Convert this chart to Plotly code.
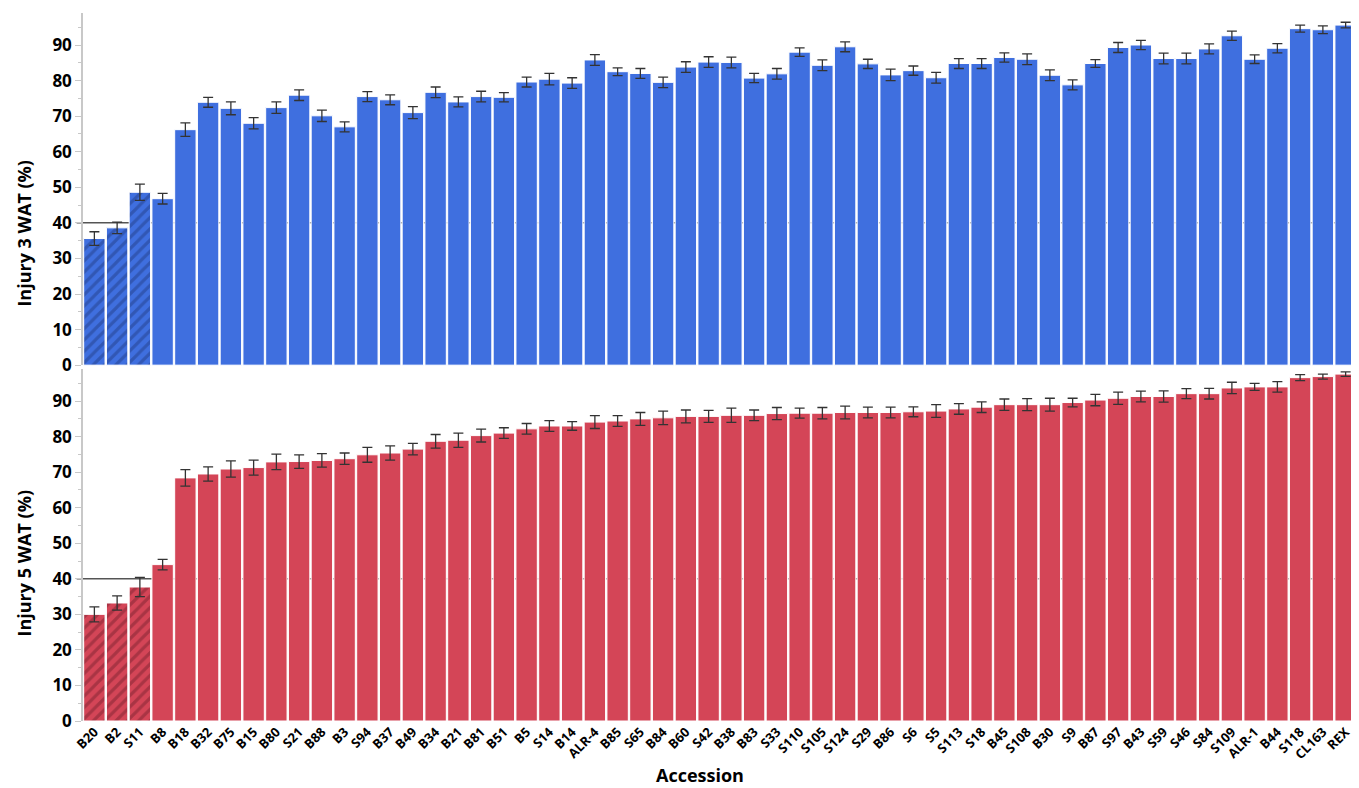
import plotly.graph_objects as go

accessions = ["B20", "B2", "S11", "B8", "B18", "B32", "B75", "B15", "B80", "S21", "B88", "B3", "S94", "B37",
              "B49", "B34", "B21", "B81", "B51", "B5", "S14", "B14", "ALR-4", "B85", "S65", "B84", "B60", "S42",
              "B38", "B83", "S33", "S110", "S105", "S124", "S29", "B86", "S6", "S5", "S113", "S18", "B45", "S108",
              "B30", "S9", "B87", "S97", "B43", "S59", "S46", "S84", "S109", "ALR-1", "B44", "S118", "CL163", "REX"]

injury3 = [35.6, 38.6, 48.6, 46.8, 66.2, 73.9, 72.2, 68.0, 72.4, 75.9, 70.1, 67.0, 75.5, 74.6,
           71.0, 76.7, 74.0, 75.5, 75.3, 79.6, 80.4, 79.3, 85.8, 82.5, 82.0, 79.5, 83.8, 85.2,
           85.1, 80.7, 81.9, 88.0, 84.3, 89.5, 84.7, 81.6, 82.8, 80.8, 84.8, 84.8, 86.5, 86.0,
           81.5, 78.8, 84.8, 89.3, 90.0, 86.2, 86.2, 88.9, 92.6, 86.0, 89.1, 94.6, 94.3, 95.6]
injury3_err = [1.9, 1.6, 2.3, 1.5, 1.9, 1.4, 1.8, 1.6, 1.6, 1.5, 1.6, 1.4, 1.4, 1.4,
               1.7, 1.5, 1.4, 1.5, 1.3, 1.4, 1.6, 1.5, 1.5, 1.1, 1.4, 1.5, 1.5, 1.5,
               1.5, 1.3, 1.5, 1.2, 1.5, 1.4, 1.3, 1.6, 1.3, 1.5, 1.4, 1.4, 1.3, 1.5,
               1.5, 1.4, 1.1, 1.4, 1.3, 1.5, 1.5, 1.4, 1.3, 1.2, 1.3, 1.0, 1.1, 0.8]

injury5 = [30.0, 33.2, 37.7, 44.0, 68.4, 69.5, 70.9, 71.3, 72.9, 73.0, 73.3, 73.8, 74.9, 75.4,
           76.5, 78.7, 79.0, 80.3, 81.0, 82.2, 83.0, 83.0, 84.1, 84.4, 85.0, 85.3, 85.7, 85.7,
           86.0, 86.0, 86.5, 86.6, 86.6, 86.8, 86.8, 86.8, 87.0, 87.2, 87.8, 88.3, 89.0, 89.0,
           89.0, 89.6, 90.3, 90.8, 91.3, 91.3, 92.1, 92.1, 93.7, 94.0, 94.0, 96.6, 96.9, 97.6]
injury5_err = [2.1, 2.0, 2.7, 1.5, 2.3, 2.0, 2.3, 2.1, 2.2, 1.9, 1.9, 1.6, 2.1, 2.0,
               1.6, 1.9, 2.0, 1.8, 1.5, 1.5, 1.5, 1.2, 1.8, 1.5, 1.8, 1.9, 1.8, 1.7,
               2.0, 1.5, 1.7, 1.4, 1.6, 1.8, 1.5, 1.5, 1.4, 1.8, 1.5, 1.5, 1.6, 1.7,
               1.8, 1.2, 1.6, 1.7, 1.5, 1.6, 1.4, 1.5, 1.6, 1.0, 1.5, 0.85, 0.7, 0.65]

threshold = 40
n_hatched = 3

BLUE = "#3F6FDF"
RED = "#D44557"
FONT = "Open Sans"

patterns = ["/" if i < n_hatched else "" for i in range(len(accessions))]

def bar_trace(values, errs, color, fg, xa, ya):
    return go.Bar(
        x=accessions, y=values, xaxis=xa, yaxis=ya,
        marker=dict(color=color, line=dict(color="white", width=1),
                    pattern=dict(shape=patterns, fgcolor=fg, size=8, solidity=0.4)),
        error_y=dict(type="data", array=errs, visible=True, color="#333333", thickness=1.3, width=5),
        showlegend=False,
    )

fig = go.Figure()
fig.add_trace(bar_trace(injury3, injury3_err, BLUE, "#243F8A", "x2", "y2"))
fig.add_trace(bar_trace(injury5, injury5_err, RED, "#7E2431", "x", "y"))

top_dom = [0.5026, 1.0]
bot_dom = [0.0, 0.497]

yax = dict(range=[0, 99], tickvals=list(range(0, 100, 10)), showgrid=False, zeroline=False,
           showline=True, linecolor="#c8c8c8", linewidth=1.5, ticks="outside", ticklen=6,
           tickcolor="#c8c8c8", tickfont=dict(family=FONT, size=17, color="black", weight="bold"),
           minor=dict(ticks="outside", ticklen=3, dtick=5, tickcolor="#c8c8c8"))

ytitle_font = dict(family=FONT, size=18, color="black", weight="bold")
xtitle_font = dict(family=FONT, size=18, color="black", weight="bold")

fig.update_layout(
    width=1351, height=780,
    margin=dict(l=75, r=2, t=5, b=67),
    plot_bgcolor="white", paper_bgcolor="white",
    bargap=0.06,
    xaxis=dict(domain=[0, 1], anchor="y", showgrid=False, showline=False, ticks="",
               tickangle=-45, tickfont=dict(family=FONT, size=13, color="black", weight="bold")),
    xaxis2=dict(domain=[0, 1], anchor="y2", matches="x", showgrid=False, showline=False,
                ticks="", showticklabels=False),
    yaxis=dict(domain=bot_dom, anchor="x", **yax),
    yaxis2=dict(domain=top_dom, anchor="x2", **yax),
    shapes=[
        dict(type="line", xref="paper", yref="y2", x0=-0.005, x1=1, y0=threshold, y1=threshold,
             line=dict(color="#555555", width=1.5), layer="below"),
        dict(type="line", xref="paper", yref="y", x0=-0.005, x1=1, y0=threshold, y1=threshold,
             line=dict(color="#555555", width=1.5), layer="below"),
    ],
    annotations=[
        dict(text="Injury 3 WAT (%)", xref="paper", yref="paper", x=-0.046, y=0.689,
             xanchor="center", yanchor="middle", textangle=-90, showarrow=False, font=ytitle_font),
        dict(text="Injury 5 WAT (%)", xref="paper", yref="paper", x=-0.046, y=0.223,
             xanchor="center", yanchor="middle", textangle=-90, showarrow=False, font=ytitle_font),
        dict(text="Accession", xref="paper", yref="paper", x=0.484, y=-0.076,
             xanchor="center", yanchor="middle", showarrow=False, font=xtitle_font),
    ],
)

fig.write_html("out.html")
